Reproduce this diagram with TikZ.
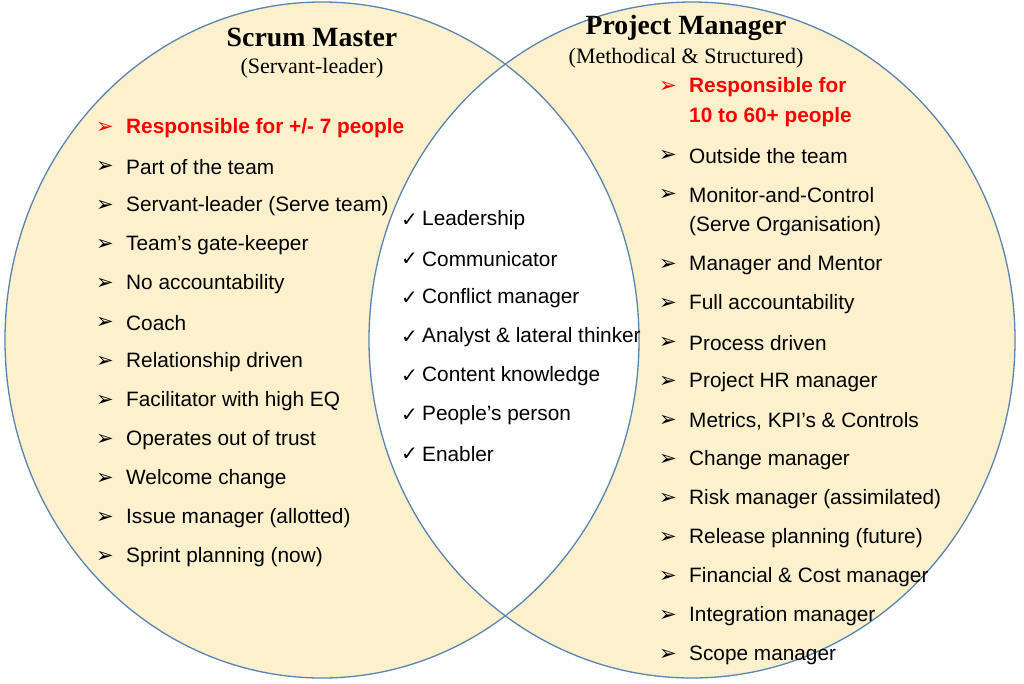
\documentclass[tikz,border=0pt]{standalone}
\usepackage{fontspec}
\setmainfont{Liberation Sans}
\newfontfamily\serif{Liberation Serif}
\newfontfamily\sym{DejaVu Sans}
\definecolor{fillc}{HTML}{FDF0CC}
\definecolor{linec}{HTML}{5A84B2}
\begin{document}
\begin{tikzpicture}[x=1pt,y=-1pt,
  itm/.style={anchor=west,inner sep=0pt,font=\fontsize{20.8}{24}\selectfont},
  bul/.style={anchor=west,inner sep=0pt,font=\sym\fontsize{21}{24}\selectfont},
  chk/.style={anchor=west,inner sep=0pt,font=\sym\fontsize{20}{24}\selectfont},
  ttl/.style={inner sep=0pt,font=\serif\bfseries\fontsize{27.8}{32}\selectfont},
  sub/.style={inner sep=0pt,font=\serif\fontsize{22}{26}\selectfont}]
\useasboundingbox (0,0) rectangle (1024,683);
\fill[fillc] (322,340) ellipse [x radius=317,y radius=338];
\fill[fillc] (692,340) ellipse [x radius=323,y radius=338];
\begin{scope}
\clip (322,340) ellipse [x radius=317,y radius=338];
\fill[white] (692,340) ellipse [x radius=323,y radius=338];
\end{scope}
\draw[linec,line width=1.3pt] (322,340) ellipse [x radius=317,y radius=338];
\draw[linec,line width=1.3pt] (692,340) ellipse [x radius=323,y radius=338];
\node[ttl] (t1) at (312,37) {Scrum Master};
\node[sub] (s1) at (312,68) {(Servant-leader)};
\node[ttl] (t2) at (686,28) {Project Manager};
\node[sub] (s2) at (686,58) {(Methodical \& Structured)};
% left list
\node[bul,red] (lb1) at (96,128) {➢};
\node[itm,red,font=\bfseries\fontsize{20.8}{24}\selectfont] (l1) at (126,128) {Responsible for +/- 7 people};
\foreach \t [count=\i from 2] in {Part of the team,Servant-leader (Serve team),Team’s gate-keeper,No accountability,Coach,Relationship driven,Facilitator with high EQ,Operates out of trust,Welcome change,Issue manager (allotted),Sprint planning (now)}{
  \node[bul] (lb\i) at (96,{128+39*(\i-1)}) {➢};
  \node[itm] (l\i) at (126,{128+39*(\i-1)}) {\t};
}
% middle
\foreach \t [count=\i] in {Leadership,Communicator,Conflict manager,Analyst \& lateral thinker,Content knowledge,People’s person,Enabler}{
  \node[chk] (mc\i) at (401,{220+39*(\i-1)}) {✓};
  \node[itm] (m\i) at (422,{220+39*(\i-1)}) {\t};
}
% right list
\node[bul,red] (rb1) at (659,87) {➢};
\node[itm,red,font=\bfseries\fontsize{20.8}{24}\selectfont] (r1a) at (689,87) {Responsible for};
\node[itm,red,font=\bfseries\fontsize{20.8}{24}\selectfont] (r1b) at (689,117) {10 to 60+ people};
\node[bul] (rb2) at (659,156) {➢};
\node[itm] (r2) at (689,156) {Outside the team};
\node[bul] (rb3) at (659,195) {➢};
\node[itm] (r3a) at (689,195) {Monitor-and-Control};
\node[itm] (r3b) at (689,226) {(Serve Organisation)};
\foreach \t [count=\i from 4] in {Manager and Mentor,Full accountability,Process driven,Project HR manager,Metrics{,} KPI’s \& Controls,Change manager,Risk manager (assimilated),Release planning (future),Financial \& Cost manager,Integration manager,Scope manager}{
  \node[bul] (rb\i) at (659,{265+39*(\i-4)}) {➢};
  \node[itm] (r\i) at (689,{265+39*(\i-4)}) {\t};
}
\end{tikzpicture}
\end{document}
